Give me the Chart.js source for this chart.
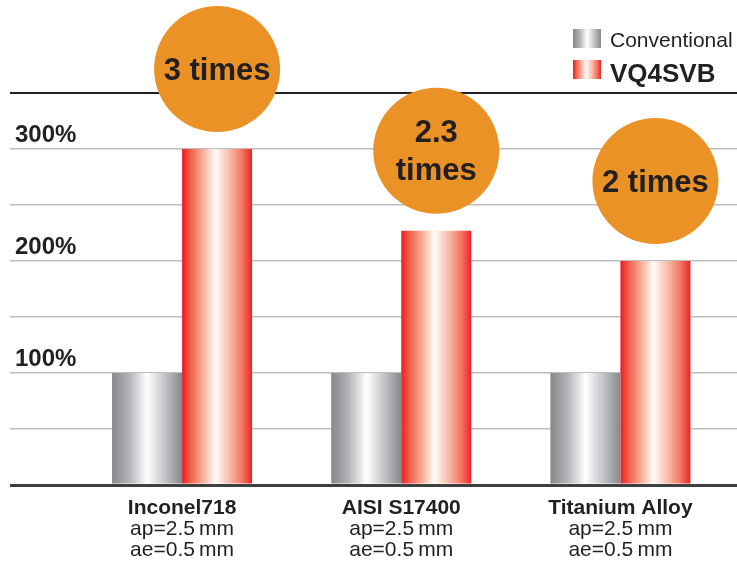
<!DOCTYPE html>
<html><head><meta charset="utf-8">
<script src="https://cdn.jsdelivr.net/npm/chart.js@4"></script>
<style>html,body{margin:0;padding:0;background:#fff}#wrap{width:737px;height:566px;position:relative}</style>
</head><body><div id="wrap"><canvas id="c"></canvas></div>
<script>
// ---- data ----
const categories = ["Inconel718", "AISI S17400", "Titanium Alloy"];
const conditions = [["ap=2.5\u2009mm", "ae=0.5\u2009mm"], ["ap=2.5\u2009mm", "ae=0.5\u2009mm"], ["ap=2.5\u2009mm", "ae=0.5\u2009mm"]];
const seriesNames = ["Conventional", "VQ4SVB"];
const conventional = [100, 100, 100];
const vq4svb = [300, 227, 200];
const multipliers = [["3 times"], ["2.3", "times"], ["2 times"]];
const yLabelledTicks = [100, 200, 300];

// ---- styles ----
const FONT = '"Liberation Sans", Arial, Helvetica, sans-serif';
const TEXT = '#231f20';
const ORANGE = '#ea9226';
const grayStops = [[0, '#86878b'], [0.25, '#b3b4b8'], [0.5, '#ffffff'], [0.62, '#e2e3e5'], [0.8, '#b8b9bd'], [1, '#87888c']];
const redStops = [[0, '#ec1c24'], [0.12, '#f1604a'], [0.32, '#f8b7a2'], [0.47, '#fffbf8'], [0.66, '#f9c2b1'], [0.86, '#f27560'], [1, '#ec2127']];
const stopsBySeries = [grayStops, redStops];

function hGrad(ctx, l, r, stops) {
  const g = ctx.createLinearGradient(l, 0, r, 0);
  stops.forEach(([o, c]) => g.addColorStop(o, c));
  return g;
}

Chart.defaults.font.family = FONT;
Chart.defaults.color = TEXT;

const gradientBars = {
  id: 'gradientBars',
  beforeDatasetsDraw(chart) {
    chart.data.datasets.forEach((ds, di) => {
      const meta = chart.getDatasetMeta(di);
      meta.data.forEach(el => {
        const h = el.width / 2;
        el.options = Object.assign({}, el.options, {
          backgroundColor: hGrad(chart.ctx, el.x - h, el.x + h, stopsBySeries[di])
        });
      });
    });
  }
};

const bubbles = {
  id: 'bubbles',
  afterDatasetsDraw(chart) {
    const ctx = chart.ctx;
    const meta = chart.getDatasetMeta(1);
    meta.data.forEach((el, i) => {
      const cx = el.x, cy = el.y - 80, r = 63;
      ctx.save();
      ctx.beginPath();
      ctx.arc(cx, cy, r, 0, Math.PI * 2);
      ctx.fillStyle = ORANGE;
      ctx.fill();
      ctx.fillStyle = TEXT;
      ctx.font = 'bold 31px ' + FONT;
      ctx.textAlign = 'center';
      ctx.textBaseline = 'middle';
      const lines = multipliers[i];
      const lh = 38;
      lines.forEach((t, k) => {
        ctx.fillText(t, cx, cy + (k - (lines.length - 1) / 2) * lh + 2);
      });
      ctx.restore();
    });
  }
};

const sideLegend = {
  id: 'sideLegend',
  afterDraw(chart) {
    const ctx = chart.ctx;
    ctx.save();
    chart.data.datasets.forEach((ds, i) => {
      const bx = 573, by = 29 + i * 31, bw = 28, bh = 19;
      ctx.fillStyle = hGrad(ctx, bx, bx + bw, stopsBySeries[i]);
      ctx.fillRect(bx, by, bw, bh);
      ctx.fillStyle = TEXT;
      ctx.textAlign = 'left';
      ctx.textBaseline = 'alphabetic';
      ctx.font = (i === 1 ? 'bold 26px ' : '21px ') + FONT;
      ctx.fillText(ds.label, 610, i === 1 ? 82 : 47);
    });
    ctx.restore();
  }
};

const gridColor = c => c.tick.value === 350 ? '#231f20' : (c.tick.value === 0 ? '#3f3f3f' : '#bdbdbd');
const gridWidth = c => c.tick.value === 350 ? 2 : (c.tick.value === 0 ? 3 : 1.5);

new Chart(document.getElementById('c'), {
  type: 'bar',
  data: {
    labels: categories,
    datasets: [
      { label: seriesNames[0], data: conventional, backgroundColor: '#b0b1b5', borderWidth: 0 },
      { label: seriesNames[1], data: vq4svb, backgroundColor: '#f27560', borderWidth: 0 }
    ]
  },
  options: {
    responsive: true,
    maintainAspectRatio: false,
    animation: false,
    categoryPercentage: 0.639,
    barPercentage: 1,
    layout: { padding: { top: 93, left: 15, right: 0, bottom: 5 } },
    plugins: { legend: { display: false }, tooltip: { enabled: false } },
    scales: {
      x: {
        position: 'bottom',
        offset: true,
        grid: { display: false, drawTicks: false, tickLength: 0 },
        border: { display: false },
        afterFit(s) { s.height = 34; },
        ticks: {
          autoSkip: false, maxRotation: 0, padding: 13,
          font: { size: 21, weight: 'bold', lineHeight: 1.0 }, color: TEXT
        }
      },
      x2: {
        type: 'category',
        position: 'bottom',
        labels: conditions,
        offset: true,
        grid: { display: false, drawTicks: false, tickLength: 0 },
        border: { display: false },
        ticks: {
          autoSkip: false, maxRotation: 0, padding: 0,
          font: { size: 21, lineHeight: 1.0 }, color: TEXT
        }
      },
      y: {
        position: 'left',
        min: 0, max: 350,
        border: { display: false },
        grid: { color: gridColor, lineWidth: gridWidth, drawTicks: true, tickLength: 62.5 },
        afterFit(s) { s.width = 57.5; },
        ticks: {
          stepSize: 50,
          mirror: true,
          crossAlign: 'near',
          padding: -57.5,
          labelOffset: -14,
          font: { size: 24, weight: 'bold' }, color: TEXT,
          callback: v => yLabelledTicks.includes(v) ? v + '%' : ''
        }
      },
      y2: {
        position: 'right',
        min: 0, max: 350,
        border: { display: false },
        grid: { color: gridColor, lineWidth: gridWidth, drawOnChartArea: false, drawTicks: true, tickLength: 7 },
        afterFit(s) { s.width = 7; },
        ticks: { stepSize: 50, display: false }
      }
    }
  },
  plugins: [gradientBars, bubbles, sideLegend]
});
</script>
</body></html>
